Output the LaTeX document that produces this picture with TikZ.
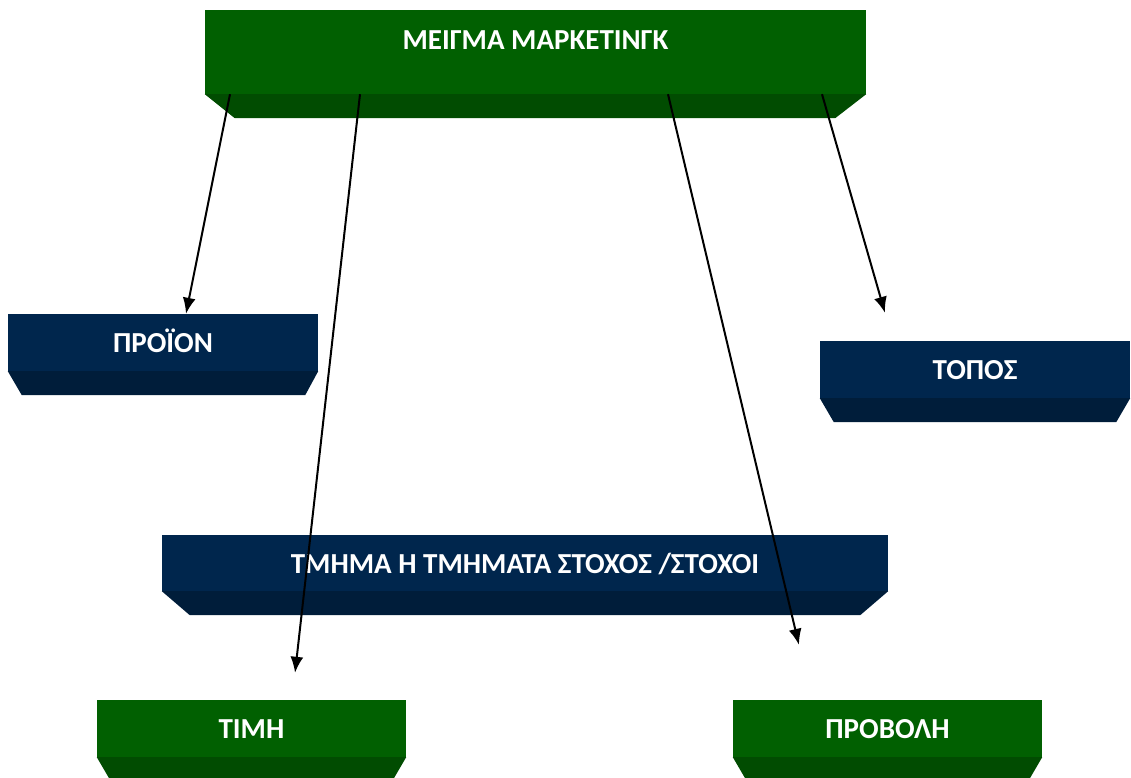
\documentclass[tikz,border=0pt]{standalone}
\usepackage{fontspec}
\setmainfont{Carlito}
\usetikzlibrary{arrows.meta,positioning,calc}

\definecolor{greenface}{RGB}{1,96,1}
\definecolor{greenband}{RGB}{1,76,1}
\definecolor{navyface}{RGB}{0,38,77}
\definecolor{navyband}{RGB}{0,29,58}

\begin{document}
\begin{tikzpicture}[x=1pt,y=-1pt,
  box/.style={shape=rectangle,inner sep=0pt,text=white,
    font=\fontsize{29}{35}\selectfont\bfseries,text height=20pt,text depth=0pt},
  greenbox/.style={box,fill=greenface},
  navybox/.style={box,fill=navyface},
  link/.style={line width=2pt,-{Latex[length=16pt,width=13pt]}}]
\useasboundingbox (0,0) rectangle (1131,778);

\node[greenbox,minimum width=661pt,minimum height=84pt,text depth=24pt] (mix) at (535.5,52) {ΜΕΙΓΜΑ ΜΑΡΚΕΤΙΝΓΚ};
\node[navybox,minimum width=310pt,minimum height=57pt] (proion) at (163,342.5) {ΠΡΟΪΟΝ};
\node[navybox,minimum width=310pt,minimum height=57pt] (topos) at (975,369.5) {ΤΟΠΟΣ};
\node[navybox,minimum width=726pt,minimum height=56pt] (target) at (525,563) {ΤΜΗΜΑ Η ΤΜΗΜΑΤΑ ΣΤΟΧΟΣ /ΣΤΟΧΟΙ};
\node[greenbox,minimum width=309pt,minimum height=57pt] (timi) at (251.5,728.5) {ΤΙΜΗ};
\node[greenbox,minimum width=309pt,minimum height=57pt] (provoli) at (887.5,728.5) {ΠΡΟΒΟΛΗ};

% bevelled lower edges
\fill[greenband] (mix.south west) -- (mix.south east) -- ++(-31,24) -- ($(mix.south west)+(30,24)$) -- cycle;
\fill[navyband] (proion.south west) -- (proion.south east) -- ++(-13,24) -- ($(proion.south west)+(14,24)$) -- cycle;
\fill[navyband] (topos.south west) -- (topos.south east) -- ++(-14,24) -- ($(topos.south west)+(14,24)$) -- cycle;
\fill[navyband] (target.south west) -- (target.south east) -- ++(-28,24) -- ($(target.south west)+(28,24)$) -- cycle;
\fill[greenband] (timi.south west) -- (timi.south east) -- ++(-14,24) -- ($(timi.south west)+(14,24)$) -- cycle;
\fill[greenband] (provoli.south west) -- (provoli.south east) -- ++(-14,24) -- ($(provoli.south west)+(14,24)$) -- cycle;

\draw [link] ($(mix.south)+(-305.5,0)$) -- ($(proion.north)+(23,0)$);
\draw [link,shorten >=27.2pt] ($(mix.south)+(-175.5,0)$) -- ($(timi.north)+(40.5,0)$);
\draw [link,shorten >=56.5pt] ($(mix.south)+(132.5,0)$) -- ($(provoli.north)+(-75.5,0)$);
\draw [link,shorten >=29.1pt] ($(mix.south)+(286.5,0)$) -- ($(topos.north)+(-82,0)$);
\end{tikzpicture}
\end{document}
